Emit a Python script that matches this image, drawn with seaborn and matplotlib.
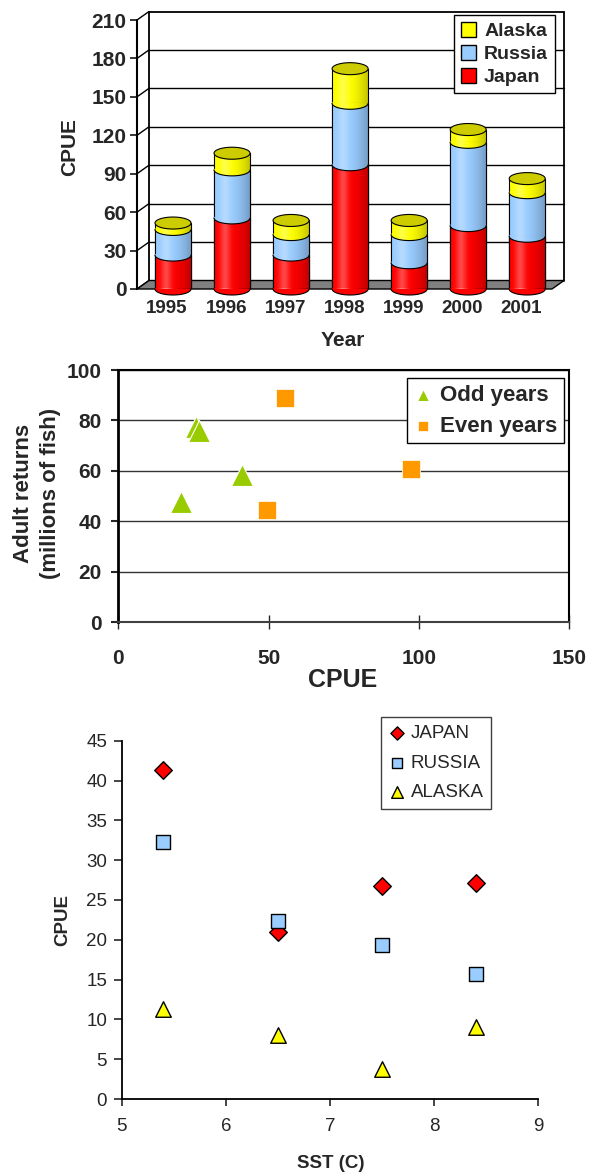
import numpy as np
import matplotlib
matplotlib.use("Agg")
import matplotlib.pyplot as plt
import seaborn as sns
from matplotlib.patches import Polygon, Patch

# ---------------- data ----------------
years = ["1995", "1996", "1997", "1998", "1999", "2000", "2001"]
japan = [26.5, 55.5, 26.5, 97, 20.5, 49.5, 41.2]
russia = [20, 37.5, 16, 48, 22, 65, 34]
alaska = [5, 13, 11, 27, 11, 10, 11]

odd_cpue = [26.0, 26.9, 20.7, 41.2]
odd_returns = [77.5, 75.7, 47.8, 58.3]
even_cpue = [55.6, 97.2, 49.5]
even_returns = [88.8, 60.8, 44.4]

sst = [5.4, 6.5, 7.5, 8.4]
sst_japan = [41.3, 21.0, 26.7, 27.1]
sst_russia = [32.3, 22.4, 19.4, 15.7]
sst_alaska = [11.3, 8.1, 3.8, 9.0]

RED, BLUE, YELLOW, CAP = "#FF0000", "#99CCFF", "#FFFF00", "#CCCC00"
GREEN, ORANGE = "#99CC00", "#FF9900"

sns.set_style("white")
plt.rcParams["font.family"] = ["Liberation Sans", "DejaVu Sans"]

W, H = 590, 1175
fig = plt.figure(figsize=(W / 100, H / 100), dpi=100)


def px_axes(l, t, r, b):
    return fig.add_axes([l / W, 1 - b / H, (r - l) / W, (b - t) / H])


# ================= top: pseudo-3D stacked cylinders =================
ax1 = px_axes(137, 20, 552, 289)
jr = [j + r for j, r in zip(japan, russia)]
tot = [s + a for s, a in zip(jr, alaska)]
bw = 0.61
for vals, col in ((tot, YELLOW), (jr, BLUE), (japan, RED)):
    sns.barplot(x=years, y=vals, color=col, saturation=1, width=bw,
                edgecolor="black", linewidth=0.8, errorbar=None, ax=ax1, zorder=2)
outer_bars = list(ax1.patches)[:len(years)]

x0, x1, ymax = -0.61, 6.42, 210
pxx = 415 / (x1 - x0)
pxy = 269 / ymax
dx, dy = 12 / pxx, 8.5 / pxy
a = bw / 2
b = 6 / pxy
eps = 1.0 / pxy
tt = np.linspace(np.pi, 2 * np.pi, 60)

# cylinder shading image (vertical stripes)
u = np.linspace(0, 1, 64)
shade = np.zeros((1, 64, 4))
hl = np.exp(-((u - 0.3) / 0.14) ** 2)
dk = np.clip((u - 0.45) / 0.55, 0, 1) ** 1.5
shade[0, :, :3] = (hl / (hl + dk + 1e-9))[:, None]
shade[0, :, 3] = np.clip(0.28 * hl + 0.25 * dk, 0, 1)


def add_shade(clip_patch, lo, hi, cx):
    im = ax1.imshow(shade, extent=(cx - a, cx + a, lo, hi), aspect="auto",
                    zorder=3.05, interpolation="bilinear")
    im.set_clip_path(clip_patch)
    im.set_clip_on(True)


def lower_half(cx, h, color):
    xs = cx + a * np.cos(tt)
    ys = h + b * np.sin(tt)
    poly = np.column_stack([np.r_[xs, xs[-1], xs[0]], np.r_[ys, h + eps, h + eps]])
    pp = Polygon(poly, closed=True, facecolor=color, edgecolor="none",
                 zorder=3, clip_on=False)
    ax1.add_patch(pp)
    ax1.plot(xs, ys, color="black", lw=0.8, zorder=3.1, clip_on=False)
    return pp


tfull = np.linspace(0, 2 * np.pi, 100)
for i in range(len(years)):
    bottom_poly = lower_half(i, 0, RED)
    lower_half(i, japan[i], BLUE)
    lower_half(i, jr[i], YELLOW)
    add_shade(outer_bars[i], 0, tot[i], i)
    add_shade(bottom_poly, -b, eps, i)
    cap = np.column_stack([i + a * np.cos(tfull), tot[i] + b * np.sin(tfull)])
    ax1.add_patch(Polygon(cap, closed=True, facecolor=CAP, edgecolor="black",
                          lw=0.8, zorder=3.2, clip_on=False))

ax1.set_xlim(x0, x1)
ax1.set_ylim(0, ymax)

# walls / floor
kw = dict(color="black", lw=1.3, clip_on=False, zorder=1)
ax1.plot([x0 + dx] * 2, [dy, ymax + dy], **kw)
ax1.plot([x0 + dx, x1 + dx], [ymax + dy] * 2, **kw)
ax1.plot([x1 + dx] * 2, [dy, ymax + dy], **kw)
for v in range(30, ymax, 30):
    ax1.plot([x0 + dx, x1 + dx], [v + dy] * 2, color="black", lw=1, clip_on=False, zorder=1)
for v in range(0, ymax + 1, 30):
    ax1.plot([x0, x0 + dx], [v, v + dy], color="black", lw=1, clip_on=False, zorder=1)
ax1.plot([x0, x0], [0, ymax], color="black", lw=1.5, clip_on=False, zorder=1)
ax1.add_patch(Polygon([(x0, 0), (x1, 0), (x1 + dx, dy), (x0 + dx, dy)], closed=True,
                      facecolor="#808080", edgecolor="black", lw=1, zorder=1.5, clip_on=False))
for s in ax1.spines.values():
    s.set_visible(False)

ax1.set_yticks(range(0, ymax + 1, 30))
ax1.set_xticks(np.arange(len(years)) - 0.1, labels=years)
ax1.tick_params(axis="y", left=True, direction="out", length=5, width=1.3, pad=2.5,
                labelsize=15)
ax1.tick_params(axis="x", bottom=False, length=0, pad=8, labelsize=13.5)
for lab in ax1.get_xticklabels() + ax1.get_yticklabels():
    lab.set_fontweight("bold")
ax1.set_xlabel("Year", fontsize=15, fontweight="bold")
ax1.set_ylabel("CPUE", fontsize=15, fontweight="bold")
ax1.xaxis.label.set_va("center")
ax1.yaxis.label.set_va("center")
ax1.xaxis.set_label_coords(0.496, -0.19)
ax1.yaxis.set_label_coords(-0.162, 0.528)
leg1 = ax1.legend(handles=[Patch(facecolor=YELLOW, edgecolor="black"),
                           Patch(facecolor=BLUE, edgecolor="black"),
                           Patch(facecolor=RED, edgecolor="black")],
                  labels=["Alaska", "Russia", "Japan"], loc="upper right",
                  bbox_to_anchor=(1.007, 1.019), borderaxespad=0, fancybox=False,
                  framealpha=1, edgecolor="black", handlelength=0.8, handleheight=0.8,
                  handletextpad=0.4, labelspacing=0.25, borderpad=0.35,
                  prop=dict(size=14, weight="bold"))
leg1.get_frame().set_linewidth(1)
leg1.set_zorder(10)

# ================= middle: returns vs CPUE =================
ax2 = px_axes(118.3, 370, 569.3, 622.3)
sns.scatterplot(x=odd_cpue, y=odd_returns, marker="^", s=250, color=GREEN,
                edgecolor="white", linewidth=0.8, ax=ax2, label="Odd years", zorder=3)
sns.scatterplot(x=even_cpue, y=even_returns, marker="s", s=150, color=ORANGE,
                edgecolor="white", linewidth=0.5, ax=ax2, label="Even years", zorder=3)
ax2.set_xlim(0, 150)
ax2.set_ylim(0, 100)
ax2.set_xticks([0, 50, 100, 150])
ax2.set_yticks(range(0, 101, 20))
ax2.yaxis.grid(True, color="#333333", lw=1)
ax2.xaxis.grid(False)
ax2.spines["left"].set_linewidth(2)
ax2.spines["top"].set_linewidth(1.5)
ax2.spines["right"].set_linewidth(1.5)
ax2.spines["bottom"].set_linewidth(1.5)
for s in ax2.spines.values():
    s.set_color("black")
ax2.spines["bottom"].set_color("#404040")
ax2.tick_params(axis="y", left=True, direction="out", length=5, width=1.5, pad=7,
                labelsize=15)
ax2.tick_params(axis="x", bottom=True, direction="inout", length=10, width=1,
                pad=14, labelsize=15)
for lab in ax2.get_xticklabels() + ax2.get_yticklabels():
    lab.set_fontweight("bold")
ax2.set_xlabel("CPUE", fontsize=18, fontweight="bold")
ax2.set_ylabel("Adult returns\n(millions of fish)", fontsize=16, fontweight="bold",
               linespacing=1.4)
ax2.xaxis.label.set_va("center")
ax2.yaxis.label.set_va("center")
ax2.xaxis.set_label_coords(0.498, -0.229)
ax2.yaxis.set_label_coords(-0.18, 0.512)
leg2 = ax2.legend(loc="upper right", bbox_to_anchor=(0.988, 0.968), borderaxespad=0,
                  fancybox=False, framealpha=1, edgecolor="black", markerscale=0.55,
                  handlelength=0.9, handletextpad=0.3, labelspacing=0.45, borderpad=0.3,
                  prop=dict(size=16, weight="bold"))
leg2.get_frame().set_linewidth(1)

# ================= bottom: CPUE vs SST =================
ax3 = px_axes(121.7, 740.7, 538.3, 1099)
sns.scatterplot(x=sst, y=sst_japan, marker="D", s=80, color=RED, edgecolor="black",
                linewidth=1, ax=ax3, label="JAPAN", zorder=3)
sns.scatterplot(x=sst, y=sst_russia, marker="s", s=110, color=BLUE, edgecolor="black",
                linewidth=1, ax=ax3, label="RUSSIA", zorder=3)
sns.scatterplot(x=sst, y=sst_alaska, marker="^", s=125, color=YELLOW, edgecolor="black",
                linewidth=1, ax=ax3, label="ALASKA", zorder=3)
ax3.set_xlim(5, 9)
ax3.set_ylim(0, 45)
ax3.set_xticks(range(5, 10))
ax3.set_yticks(range(0, 46, 5))
for side in ("top", "right"):
    ax3.spines[side].set_visible(False)
for side in ("left", "bottom"):
    ax3.spines[side].set_linewidth(1.3)
    ax3.spines[side].set_color("black")
ax3.tick_params(axis="y", left=True, direction="out", length=5.5, width=1.2, pad=5,
                labelsize=13.5)
ax3.tick_params(axis="x", bottom=True, direction="out", length=5, width=1.2, pad=9,
                labelsize=13.5)
ax3.set_xlabel("SST (C)", fontsize=13.5, fontweight="bold")
ax3.set_ylabel("CPUE", fontsize=13.5, fontweight="bold")
ax3.xaxis.label.set_va("center")
ax3.yaxis.label.set_va("center")
ax3.xaxis.set_label_coords(0.501, -0.179)
ax3.yaxis.set_label_coords(-0.141, 0.5)
leg3 = ax3.legend(loc="upper right", bbox_to_anchor=(491 / W, 1 - 717 / H),
                  bbox_transform=fig.transFigure, borderaxespad=0, fancybox=False,
                  framealpha=1, edgecolor="#404040", markerscale=0.75,
                  handlelength=1.0, handletextpad=0.2, labelspacing=0.68, borderpad=0.4,
                  prop=dict(size=13.5))
leg3.get_frame().set_linewidth(1)

fig.savefig("out.png", dpi=100)
